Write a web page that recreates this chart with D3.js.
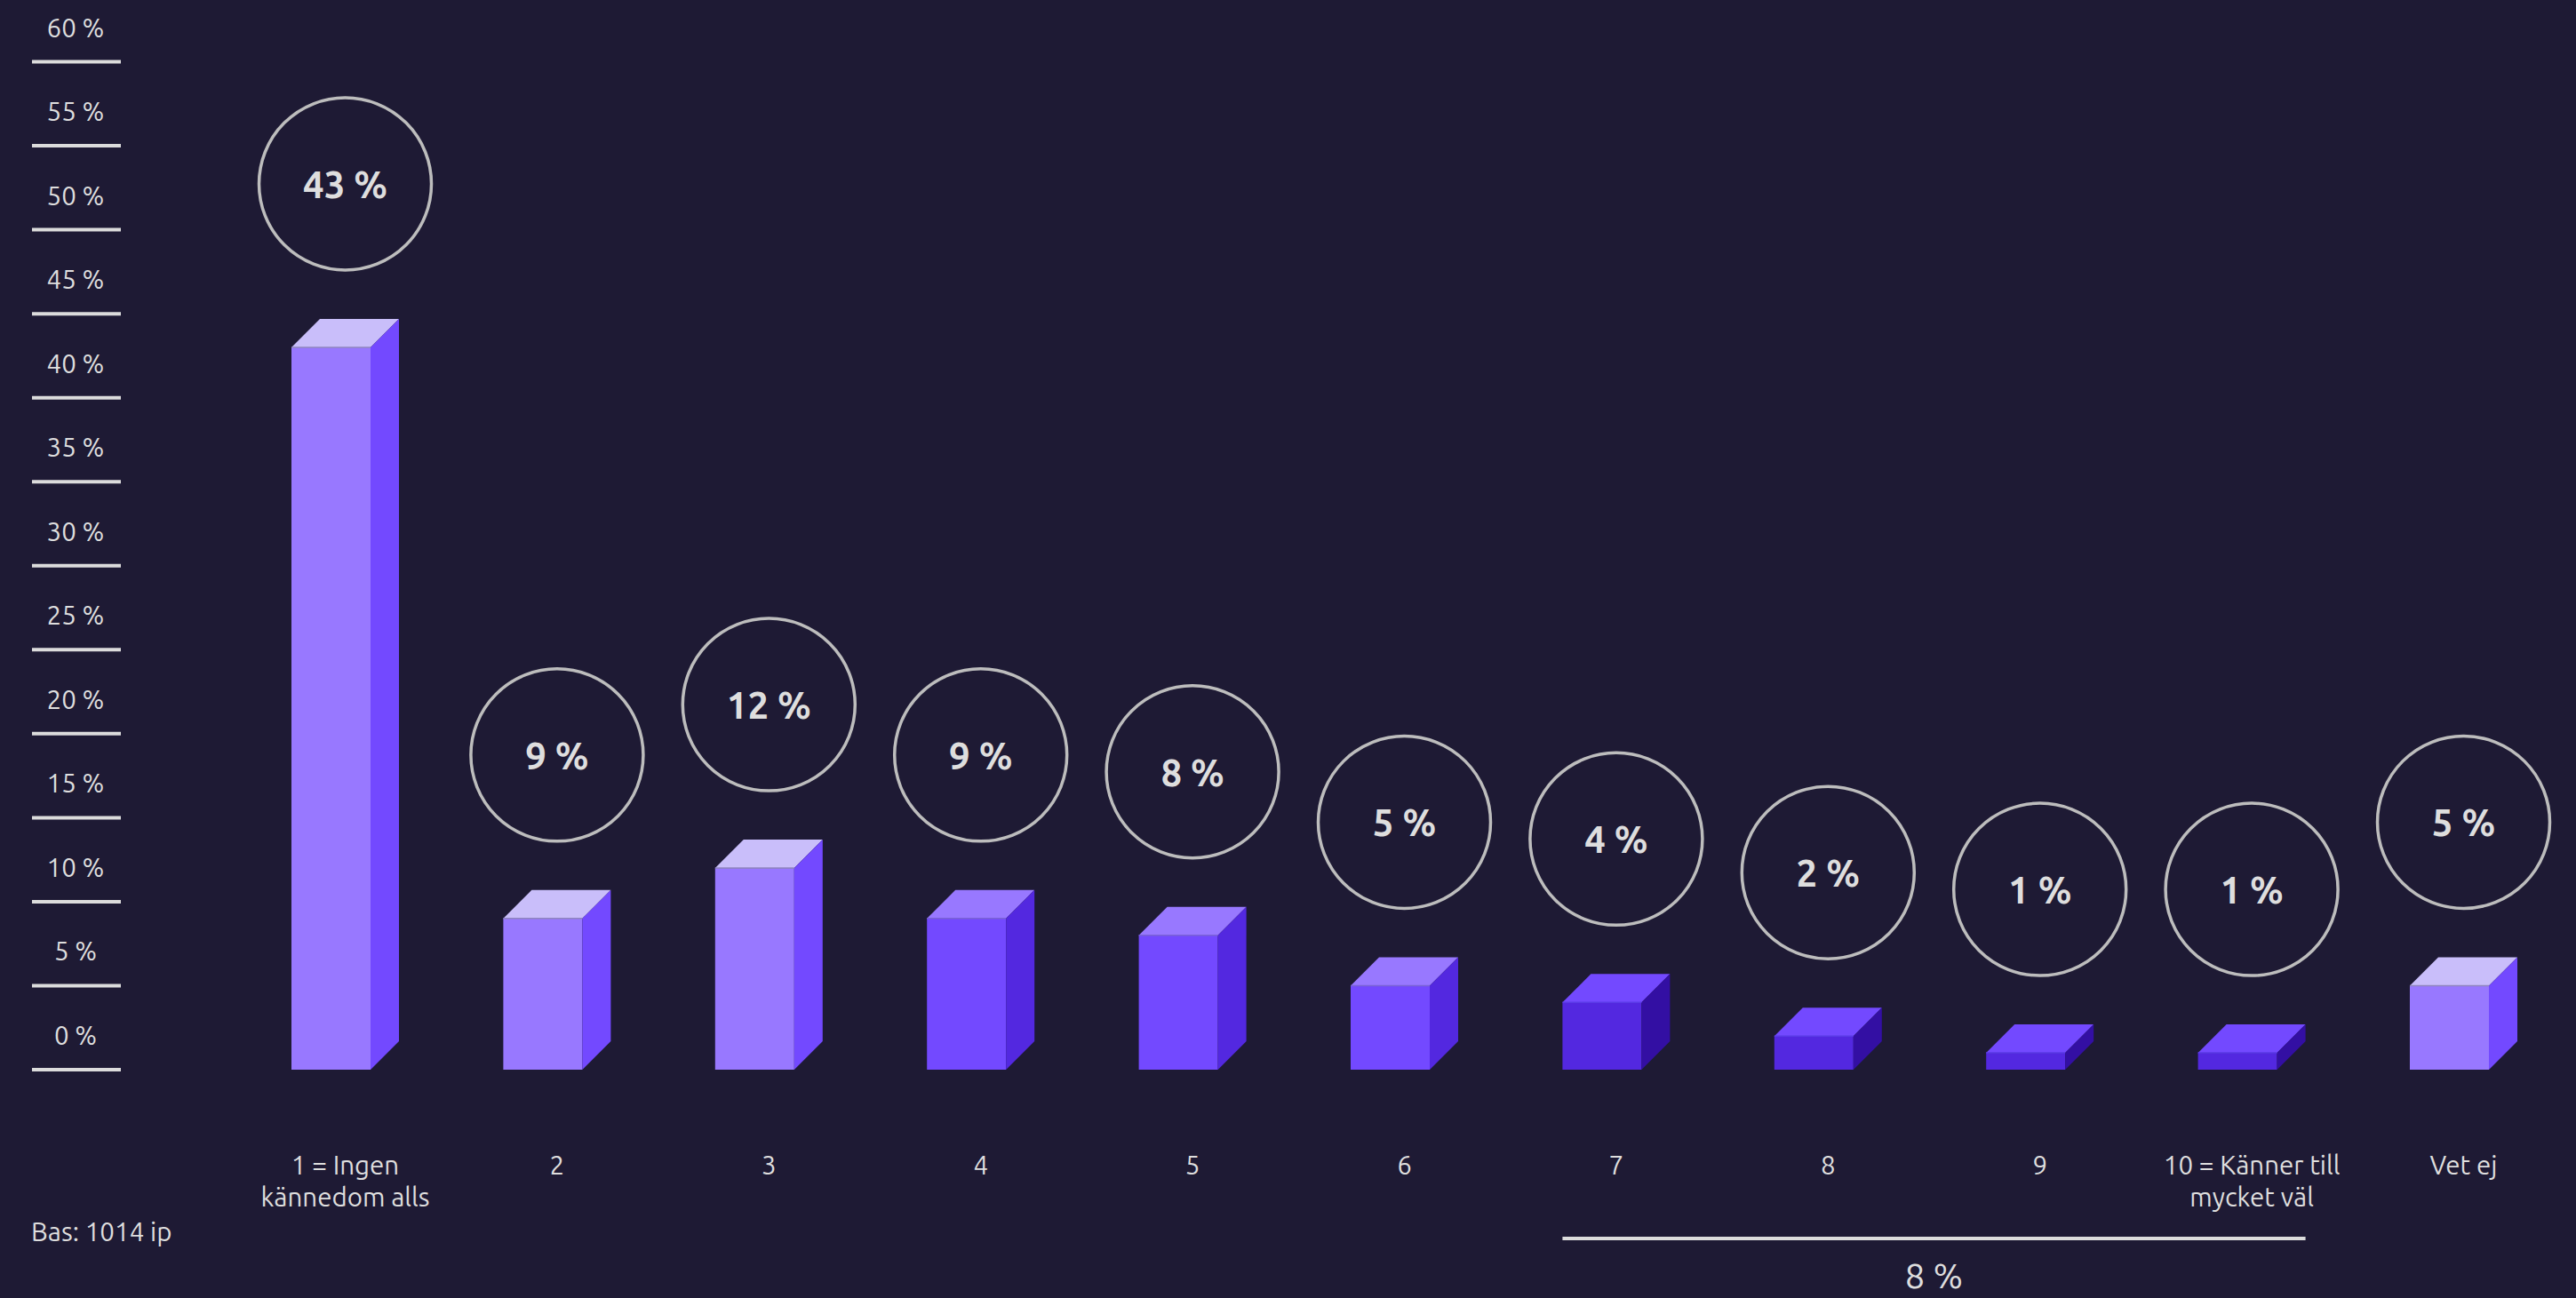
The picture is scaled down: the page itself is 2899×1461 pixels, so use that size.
<!DOCTYPE html>
<html>
<head>
<meta charset="utf-8">
<script src="https://cdn.jsdelivr.net/npm/d3@7"></script>
<style>
  html, body { margin: 0; padding: 0; background: #1e1a34; }
  svg { display: block; }
  text { font-family: Ubuntu, "Noto Sans", "Open Sans", sans-serif; }
</style>
</head>
<body>
<svg id="chart" width="2899" height="1461"></svg>
<script>
// Kännedom på en skala 1–10 (andel i procent)
const categories = ["1 = Ingen\nkännedom alls", "2", "3", "4", "5", "6", "7", "8", "9", "10 = Känner till\nmycket väl", "Vet ej"];
const values = [43, 9, 12, 9, 8, 5, 4, 2, 1, 1, 5];
// Färggrupp per kategori: skalsteg 1–3, 4–6, 7–10 samt "Vet ej"
const groups = ["low", "low", "low", "mid", "mid", "mid", "high", "high", "high", "high", "low"];
const yTicks = [0, 5, 10, 15, 20, 25, 30, 35, 40, 45, 50, 55, 60];
// Summerade kategorier (7–10) under klammern
const bracketCategories = ["7", "8", "9", "10 = Känner till\nmycket väl"];
const baseNote = "Bas: 1014 ip";

const palette = {
  low:  { front: "#9878ff", top: "#c9befa", side: "#7349ff", edge: "#8f86bf" },
  mid:  { front: "#7349ff", top: "#9878ff", side: "#5328e0", edge: "#7a62d6" },
  high: { front: "#5328e0", top: "#7349ff", side: "#330fa3", edge: "#5a3ae6" }
};
const textColor = "#dedede";
const smallFont = 29.5;

const svg = d3.select("#chart");
svg.append("rect").attr("width", 2899).attr("height", 1461).attr("fill", "#1e1a34");

const y = d3.scaleLinear().domain([0, 60]).range([1204, 69.5]);
const x = d3.scalePoint().domain(categories).range([388.5, 2772.5]);

const barW = 89, depth = 32;
const pct = v => v + "\u00a0%";

// Y-axel: korta streck med etikett ovanför
const axis = svg.append("g").attr("class", "y-axis");
const tick = axis.selectAll("g").data(yTicks).join("g")
  .attr("transform", d => `translate(0,${y(d)})`);
tick.append("line")
  .attr("x1", 36).attr("x2", 136)
  .attr("stroke", "#dcdcdc").attr("stroke-width", 4);
tick.append("text")
  .attr("x", 85).attr("y", -28)
  .attr("text-anchor", "middle")
  .attr("font-size", smallFont)
  .attr("fill", textColor)
  .text(d => pct(d));

// 3D-staplar
const data = categories.map((c, i) => ({ cat: c, value: values[i], group: groups[i] }));
const bars = svg.append("g").attr("class", "bars").selectAll("g").data(data).join("g");

bars.each(function(d) {
  const g = d3.select(this);
  const col = palette[d.group];
  const x0 = x(d.cat) - (barW + depth) / 2;
  const yt = y(d.value), yb = y(0);
  g.append("rect")
    .attr("x", x0).attr("y", yt)
    .attr("width", barW).attr("height", yb - yt)
    .attr("fill", col.front);
  g.append("polygon")
    .attr("points", [[x0, yt], [x0 + depth, yt - depth], [x0 + barW + depth, yt - depth], [x0 + barW, yt]].join(" "))
    .attr("fill", col.top);
  g.append("polygon")
    .attr("points", [[x0 + barW, yt], [x0 + barW + depth, yt - depth], [x0 + barW + depth, yb - depth], [x0 + barW, yb]].join(" "))
    .attr("fill", col.side);
  g.append("line")
    .attr("x1", x0).attr("x2", x0 + barW)
    .attr("y1", yt).attr("y2", yt)
    .attr("stroke", col.edge).attr("stroke-width", 1.5);

  // Värdebubbla ovanför stapeln
  const cy = yt - depth - 152;
  g.append("circle")
    .attr("cx", x(d.cat)).attr("cy", cy).attr("r", 97)
    .attr("fill", "none").attr("stroke", "#bdbdbd").attr("stroke-width", 3.5);
  g.append("text")
    .attr("x", x(d.cat)).attr("y", cy + 16)
    .attr("text-anchor", "middle")
    .attr("font-size", 42).attr("font-weight", 700)
    .attr("fill", textColor)
    .text(pct(d.value));
});

// Kategorietiketter
const labels = svg.append("g").attr("class", "x-labels").selectAll("text").data(categories).join("text")
  .attr("x", d => x(d)).attr("y", 1322)
  .attr("text-anchor", "middle")
  .attr("font-size", smallFont)
  .attr("fill", textColor);
labels.each(function(d) {
  d3.select(this).selectAll("tspan").data(d.split("\n")).join("tspan")
    .attr("x", x(d)).attr("dy", (t, i) => i === 0 ? 0 : 36)
    .text(t => t);
});

// Klammer för skalsteg 7–10 med summerad andel
const bx1 = x(bracketCategories[0]) - (barW + depth) / 2;
const bx2 = x(bracketCategories[bracketCategories.length - 1]) + (barW + depth) / 2;
const bracketSum = d3.sum(bracketCategories, c => values[categories.indexOf(c)]);
svg.append("line")
  .attr("x1", bx1).attr("x2", bx2).attr("y1", 1394).attr("y2", 1394)
  .attr("stroke", "#dcdcdc").attr("stroke-width", 4);
svg.append("text")
  .attr("x", (bx1 + bx2) / 2).attr("y", 1450)
  .attr("text-anchor", "middle")
  .attr("font-size", 40)
  .attr("fill", textColor)
  .text(pct(bracketSum));

// Basnotering
svg.append("text")
  .attr("x", 35).attr("y", 1397)
  .attr("font-size", smallFont)
  .attr("fill", textColor)
  .text(baseNote);
</script>
</body>
</html>
